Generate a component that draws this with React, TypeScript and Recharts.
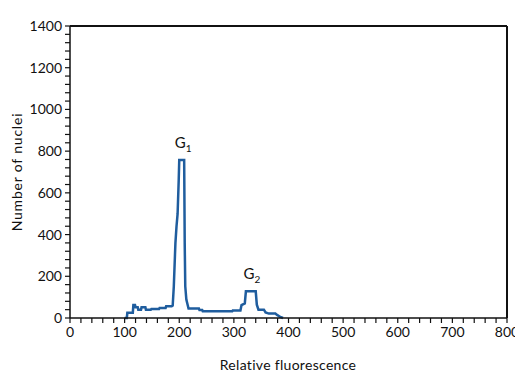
import React from 'react';
import { LineChart, Line, XAxis, YAxis, ReferenceLine, ReferenceDot, Label } from 'recharts';

const fluorescence = [100, 104, 105, 115, 116, 119, 120, 124, 125, 130, 131, 138, 139, 148, 149, 163, 164, 175, 176, 186, 188, 190, 193, 195, 197, 199, 200, 209, 210, 211, 213, 217, 236, 237, 242, 243, 297, 298, 312, 314, 320, 322, 340, 342, 345, 355, 358, 364, 376, 379, 385, 390];
const nuclei = [0, 0, 25, 25, 62, 62, 52, 52, 40, 40, 52, 52, 40, 40, 43, 43, 48, 48, 56, 56, 60, 150, 360, 440, 500, 660, 757, 757, 360, 152, 88, 45, 45, 38, 38, 32, 32, 36, 36, 62, 70, 128, 128, 64, 40, 40, 27, 21, 21, 15, 5, 0];

const xTicks = [0, 20, 40, 60, 80, 100, 120, 140, 160, 180, 200, 220, 240, 260, 280, 300, 320, 340, 360, 380, 400, 420, 440, 460, 480, 500, 520, 540, 560, 580, 600, 620, 640, 660, 680, 700, 720, 740, 760, 780, 800];
const yTicks = [0, 40, 80, 120, 160, 200, 240, 280, 320, 360, 400, 440, 480, 520, 560, 600, 640, 680, 720, 760, 800, 840, 880, 920, 960, 1000, 1040, 1080, 1120, 1160, 1200, 1240, 1280, 1320, 1360, 1400];

const peakLabels = [
  { name: 'G', sub: '1', x: 207, y: 816 },
  { name: 'G', sub: '2', x: 333, y: 188 },
];

const xTitle = 'Relative fluorescence';
const yTitle = 'Number of nuclei';

const data = fluorescence.map((x, i) => ({ x, y: nuclei[i] }));

const FONT = 'Lato, "Open Sans", sans-serif';

const PeakText = (props: any) => {
  const { cx, cy, name, sub } = props;
  return (
    <text x={cx} y={cy} textAnchor="middle" fontFamily={FONT} fill="#111" fontSize={15}>
      {name}
      <tspan fontSize={10} dy={4}>{sub}</tspan>
    </text>
  );
};

export default function App() {
  return (
    <div style={{ position: 'absolute', left: 0, top: 0, width: 515, height: 374, background: '#fff' }}>
      <LineChart width={515} height={374} data={data} margin={{ top: 26, right: 8, bottom: 26, left: 0 }}>
        <XAxis
          dataKey="x"
          type="number"
          domain={[0, 800]}
          ticks={xTicks}
          interval={0}
          tickFormatter={(v: number) => (v % 100 === 0 ? String(v) : '')}
          tickSize={5}
          tickMargin={4}
          height={30}
          axisLine={{ stroke: '#111', strokeWidth: 1.5 }}
          tickLine={{ stroke: '#111', strokeWidth: 1.2 }}
          tick={{ fill: '#111', fontSize: 14, fontFamily: FONT }}
        >
          <Label
            content={() => (
              <text x={288} y={370} textAnchor="middle" fill="#111" fontSize={14} fontFamily={FONT} letterSpacing={0.3}>
                {xTitle}
              </text>
            )}
          />
        </XAxis>
        <YAxis
          type="number"
          domain={[0, 1400]}
          ticks={yTicks}
          interval={0}
          tickFormatter={(v: number) => (v % 200 === 0 ? String(v) : '')}
          tickSize={5}
          tickMargin={3}
          width={70}
          axisLine={{ stroke: '#111', strokeWidth: 1.5 }}
          tickLine={{ stroke: '#111', strokeWidth: 1.2 }}
          tick={{ fill: '#111', fontSize: 14, fontFamily: FONT }}
        >
          <Label
            content={() => (
              <text x={22} y={172} textAnchor="middle" transform="rotate(-90 22 172)" fill="#111" fontSize={14} fontFamily={FONT} letterSpacing={0.8}>
                {yTitle}
              </text>
            )}
          />
        </YAxis>
        <ReferenceLine y={1400} stroke="#111" strokeWidth={2} />
        <ReferenceLine x={800} stroke="#111" strokeWidth={2} />
        <Line
          dataKey="y"
          type="linear"
          stroke="#1f5d9e"
          strokeWidth={2.5}
          dot={false}
          isAnimationActive={false}
        />
        {peakLabels.map((p, i) => (
          <ReferenceDot
            key={i}
            x={p.x}
            y={p.y}
            r={0}
            shape={(props: any) => <PeakText {...props} name={p.name} sub={p.sub} />}
          />
        ))}
      </LineChart>
    </div>
  );
}
